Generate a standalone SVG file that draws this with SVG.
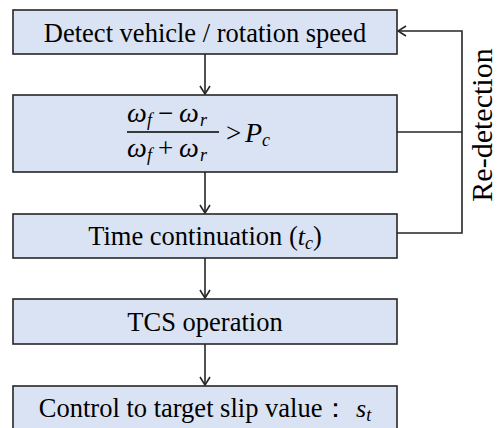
<svg xmlns="http://www.w3.org/2000/svg" width="499" height="428" viewBox="0 0 499 428">
<style>
.box{fill:#DAE3F3;stroke:#262626;stroke-width:1.6}
.t{font-family:'Liberation Serif','DejaVu Serif',serif;font-size:26.5px;fill:#000;text-anchor:middle}
.m{font-family:'Liberation Serif','DejaVu Serif',serif;font-style:italic;font-size:25px;fill:#000}
.r{font-family:'Liberation Serif','DejaVu Serif',serif;font-size:27px;fill:#000}
.w{font-size:28px}
.sub{font-size:18px}
.c{fill:none;stroke:#262626;stroke-width:1.6}
</style>
<defs>
<marker id="ah" markerWidth="12" markerHeight="12" viewBox="0 0 12 12" refX="11" refY="6" orient="auto" markerUnits="userSpaceOnUse">
<path d="M3,1 L11,6 L3,11" fill="none" stroke="#262626" stroke-width="1.6"/>
</marker>
</defs>
<g id="connectors">
<line class="c" x1="205" y1="54" x2="205" y2="94" marker-end="url(#ah)"/>
<line class="c" x1="205" y1="172" x2="205" y2="213" marker-end="url(#ah)"/>
<line class="c" x1="205" y1="258" x2="205" y2="298" marker-end="url(#ah)"/>
<line class="c" x1="205" y1="344" x2="205" y2="385" marker-end="url(#ah)"/>
<polyline class="c" points="397,132 462,132"/>
<polyline class="c" points="397,233 462,233 462,31 398,31" marker-end="url(#ah)"/>
<text class="t" transform="translate(492,125) rotate(-90)" style="font-size:30px">Re-detection</text>
</g>
<g id="n1">
<rect class="box" x="13" y="10" width="384" height="44"/>
<text class="t" x="205" y="42">Detect vehicle / rotation speed</text>
</g>
<g id="n2">
<rect class="box" x="13" y="95" width="384" height="77"/>
<text class="m w" x="127" y="122">ω</text>
<text class="m sub" x="147" y="126">f</text>
<text class="r" x="158" y="122">−</text>
<text class="m w" x="179" y="122">ω</text>
<text class="m sub" x="200" y="126">r</text>
<line x1="127" y1="132" x2="219" y2="132" stroke="#000" stroke-width="1.3"/>
<text class="m w" x="127" y="157">ω</text>
<text class="m sub" x="147" y="161">f</text>
<text class="r" x="158" y="157">+</text>
<text class="m w" x="179" y="157">ω</text>
<text class="m sub" x="200" y="161">r</text>
<text class="r" x="226" y="142">&gt;</text>
<text class="m w" x="245" y="142">P</text>
<text class="m sub" x="262" y="146">c</text>
</g>
<g id="n3">
<rect class="box" x="13" y="214" width="384" height="44"/>
<text class="t" x="205" y="245">Time continuation (<tspan class="m" style="font-size:26px">t</tspan><tspan class="m sub" dy="4">c</tspan><tspan dy="-4">)</tspan></text>
</g>
<g id="n4">
<rect class="box" x="13" y="299" width="384" height="45"/>
<text class="t" x="205" y="331">TCS operation</text>
</g>
<g id="n5">
<rect class="box" x="13" y="386" width="384" height="44"/>
<text class="t" x="205" y="417">Control to target slip value： <tspan class="m" style="font-size:26px">s</tspan><tspan class="m sub" dy="4">t</tspan></text>
</g>
</svg>
